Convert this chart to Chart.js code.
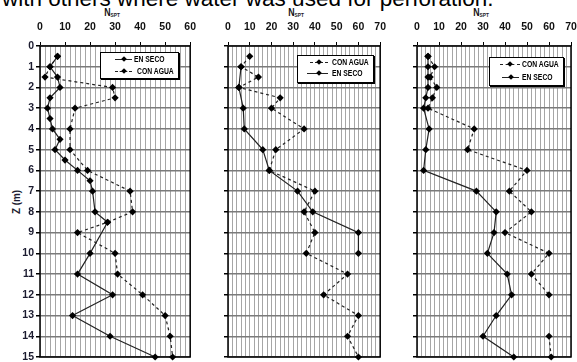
<!DOCTYPE html>
<html>
<head>
<meta charset="utf-8">
<script src="https://cdn.jsdelivr.net/npm/chart.js@4/dist/chart.umd.min.js"></script>
<style>
  body { margin:0; width:577px; height:362px; overflow:hidden; position:relative; background:#fff;
         font-family:"Liberation Sans",Arial,sans-serif; }
  .abs { position:absolute; }
  #title { left:2px; top:-12px; font:22.5px "Liberation Sans",Arial,sans-serif; line-height:22.5px; color:#000; white-space:nowrap; }
  .nspt { top:6px; font-weight:bold; font-size:11px; color:#111; transform:translateX(-50%) scaleX(0.8); white-space:nowrap; }
  .nspt sub { font-size:6px; vertical-align:-1px; color:#222; }
  #zlab { left:16px; top:202px; font-weight:bold; font-size:11px; color:#1b1b2f; transform:translate(-50%,-50%) rotate(-90deg) scaleX(0.9); white-space:nowrap; }
  .leg { background:#fff; border:1px solid #000; box-shadow:1px 1px 0 #000; }
  .row { position:absolute; height:0; }
  .ln { position:absolute; height:0; border-top:1px solid #222; }
  .ln.d { border-top:1px dashed #222; }
  .mk { position:absolute; width:4px; height:4px; background:#000; transform:translate(-50%,-50%) rotate(45deg); }
  .tx { position:absolute; font-weight:bold; font-size:8.5px; line-height:9px; transform-origin:left center; transform:translateY(-50%) scaleX(0.8); white-space:nowrap; color:#000; }
</style>
</head>
<body>
<div id="title" class="abs">with others where water was used for perforation.</div>
<div class="abs nspt" style="left:112px">N<sub>SPT</sub></div>
<div class="abs nspt" style="left:296px">N<sub>SPT</sub></div>
<div class="abs nspt" style="left:481px">N<sub>SPT</sub></div>
<div id="zlab" class="abs">Z (m)</div>

<canvas id="c1" class="abs" width="205" height="370" style="left:0;top:0"></canvas>
<canvas id="c2" class="abs" width="185" height="370" style="left:210px;top:0"></canvas>
<canvas id="c3" class="abs" width="200" height="370" style="left:398px;top:0"></canvas>

<!-- leyendas -->
<div class="abs leg" style="left:100px;top:52px;width:77px;height:25px">
  <div class="row" style="top:6px"><div class="ln" style="left:14px;width:17px"></div><div class="mk" style="left:23px;top:0"></div><div class="tx" style="left:33px">EN SECO</div></div>
  <div class="row" style="top:18px"><div class="ln d" style="left:14px;width:17px"></div><div class="mk" style="left:23px;top:0"></div><div class="tx" style="left:36px">CON AGUA</div></div>
</div>
<div class="abs leg" style="left:297px;top:55px;width:75px;height:26px">
  <div class="row" style="top:6px"><div class="ln d" style="left:12px;width:18px"></div><div class="mk" style="left:21px;top:0"></div><div class="tx" style="left:34px">CON AGUA</div></div>
  <div class="row" style="top:17px"><div class="ln" style="left:9px;width:21px"></div><div class="mk" style="left:21px;top:0"></div><div class="tx" style="left:34px">EN SECO</div></div>
</div>
<div class="abs leg" style="left:489px;top:57px;width:73px;height:27px">
  <div class="row" style="top:6px"><div class="ln d" style="left:10px;width:20px"></div><div class="mk" style="left:20px;top:0"></div><div class="tx" style="left:32px">CON AGUA</div></div>
  <div class="row" style="top:19px"><div class="ln" style="left:12px;width:17px"></div><div class="mk" style="left:21px;top:0"></div><div class="tx" style="left:32px">EN SECO</div></div>
</div>

<script>
// profundidades (m) y valores N_SPT de cada sondeo

// sondeo 1
var z1Seco = [0.5, 1, 1.5, 2, 2.5, 3, 3.5, 4, 4.5, 5, 5.5, 6, 6.5, 7, 8, 8.5, 10, 11, 12, 13, 14, 15];
var n1Seco = [7, 4, 7, 8, 4, 3, 4, 5, 8, 6, 10, 15, 20, 21, 22, 27, 20, 15, 29, 13, 28, 46];
var z1Agua = [0.5, 1, 1.5, 2, 2.5, 3, 4, 5, 6, 7, 8, 8.5, 9, 10, 11, 12, 13, 14, 15];
var n1Agua = [7, 4, 2, 29, 30, 14, 12, 12, 19, 36, 37, 27, 15, 30, 31, 41, 50, 52, 53];

// sondeo 2
var z2Seco = [1, 2, 3, 4, 5, 6, 7, 8, 9, 10];
var n2Seco = [6, 5, 7, 7.5, 16, 19, 32, 39, 60, 60];
var z2Agua = [0.5, 1, 1.5, 2, 2.5, 3, 4, 5, 6, 7, 8, 9, 10, 11, 12, 13, 14, 15];
var n2Agua = [10, 6, 14, 5, 24, 20, 35, 22, 19, 40, 35, 40, 36, 55, 44, 60, 55, 60];

// sondeo 3
var z3Seco = [0.5, 1, 1.5, 2, 2.5, 3, 4, 5, 6, 7, 8, 9, 10, 11, 12, 13, 14, 15];
var n3Seco = [5, 5, 5, 5, 4, 3, 5.5, 4, 3, 27, 36, 35, 32, 41, 43, 36, 30, 44];
var z3Agua = [0.5, 1, 1.5, 2, 2.5, 3, 4, 5, 6, 7, 8, 9, 10, 11, 12, 13, 14, 15];
var n3Agua = [5, 8, 6, 9, 7, 5, 26, 23, 50, 42, 52, 40, 60, 52, 60, null, 60, 61];

var FONT = '"Liberation Sans",Arial,sans-serif';

function pts(z, n) {
    return z.map(function (d, i) { return { x: n[i], y: d }; });
}

function serie(z, n, dashed) {
    return {
        data: pts(z, n),
        showLine: true,
        borderColor: '#222',
        borderWidth: 1.2,
        borderDash: dashed ? [3, 3] : [],
        pointStyle: 'rectRot',
        pointRadius: 3.6,
        pointBackgroundColor: '#000',
        pointBorderColor: '#000',
        pointBorderWidth: 0,
        spanGaps: false,
        clip: false
    };
}

// marco negro alrededor del area del grafico
var marco = {
    id: 'marco',
    beforeDatasetsDraw: function (chart) {
        var a = chart.chartArea, ctx = chart.ctx;
        ctx.save();
        ctx.strokeStyle = '#000';
        ctx.lineWidth = 1.5;
        ctx.strokeRect(a.left, a.top, a.right - a.left, a.bottom - a.top);
        ctx.restore();
    }
};

function grafico(id, xMax, yWidth, padRight, datasets, showYLabels) {
    return new Chart(document.getElementById(id), {
        type: 'scatter',
        data: { datasets: datasets },
        options: {
            responsive: false,
            animation: false,
            events: [],
            layout: { padding: { top: 0, left: 0, right: padRight, bottom: 13 } },
            plugins: { legend: { display: false }, tooltip: { enabled: false } },
            scales: {
                x: {
                    type: 'linear',
                    position: 'top',
                    min: 0,
                    max: xMax,
                    afterFit: function (s) { s.height = 46; },
                    ticks: {
                        stepSize: 2,
                        autoSkip: false,
                        maxRotation: 0,
                        padding: 9,
                        color: '#111',
                        font: { family: FONT, size: 10.5, weight: 'bold' },
                        callback: function (v) { return v % 10 === 0 ? v : ''; }
                    },
                    grid: {
                        color: '#a6a6a6',
                        lineWidth: 1,
                        tickLength: 4,
                        tickColor: function (c) { return c.tick && c.tick.value % 10 === 0 ? '#000' : 'rgba(0,0,0,0)'; }
                    },
                    border: { display: false }
                },
                y: {
                    type: 'linear',
                    reverse: true,
                    min: 0,
                    max: 15,
                    afterFit: function (s) { s.width = yWidth; },
                    ticks: {
                        stepSize: 1,
                        autoSkip: false,
                        display: showYLabels,
                        padding: 2,
                        color: '#1b1b2f',
                        font: { family: FONT, size: 10.5, weight: 'bold' }
                    },
                    grid: {
                        color: '#7a7a7a',
                        lineWidth: 1.5,
                        tickLength: 4,
                        tickColor: '#000'
                    },
                    border: { display: false }
                }
            }
        },
        plugins: [marco]
    });
}

grafico('c1', 60, 40, 10, [serie(z1Seco, n1Seco, false), serie(z1Agua, n1Agua, true)], true);
grafico('c2', 70, 18, 12, [serie(z2Agua, n2Agua, true), serie(z2Seco, n2Seco, false)], false);
grafico('c3', 70, 19, 27, [serie(z3Agua, n3Agua, true), serie(z3Seco, n3Seco, false)], false);
</script>
</body>
</html>
